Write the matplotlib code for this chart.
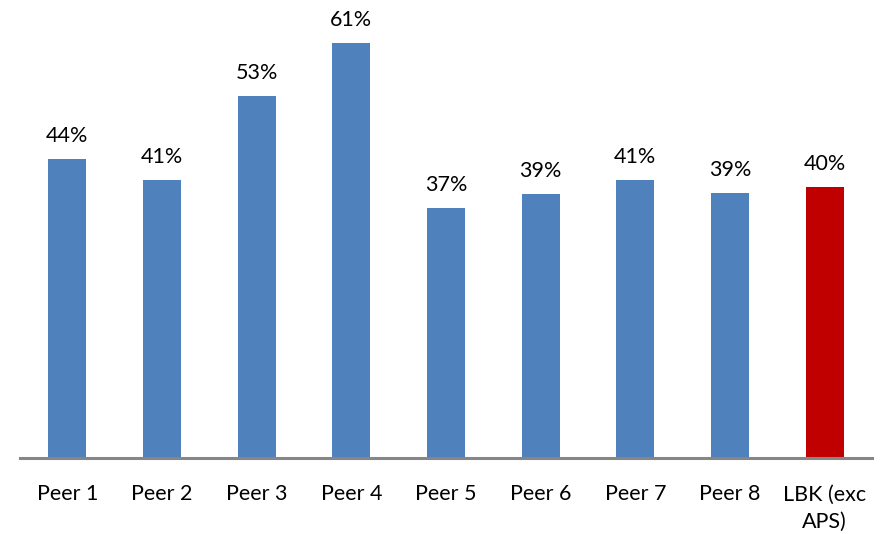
import matplotlib
matplotlib.use("Agg")
import matplotlib.pyplot as plt

categories = ["Peer 1", "Peer 2", "Peer 3", "Peer 4", "Peer 5", "Peer 6", "Peer 7", "Peer 8", "LBK (exc\nAPS)"]
values = [44.0, 40.8, 53.2, 61.0, 36.7, 38.8, 40.8, 38.9, 39.8]
labels = ["44%", "41%", "53%", "61%", "37%", "39%", "41%", "39%", "40%"]
colors = ["#4F81BD"] * 8 + ["#C00000"]

plt.rcParams['font.family'] = ['Lato', 'DejaVu Sans']

fig = plt.figure(figsize=(8.81, 5.34), dpi=100)
ax = fig.add_axes([20/881, (534-458)/534, (872-20)/881, 458/534])
x = list(range(len(categories)))
ax.bar(x, values, width=0.40, color=colors, zorder=2)
for xi, v, lab in zip(x, values, labels):
    ax.text(xi, v + 1.9, lab, ha="center", va="bottom", fontsize=15.5, color="#000000")
ax.set_xlim(-0.5, 8.5)
ax.set_ylim(0, 67.3)
ax.set_yticks([])
for s in ["top", "right", "left"]:
    ax.spines[s].set_visible(False)
ax.spines["bottom"].set_color("#868686")
ax.spines["bottom"].set_linewidth(2.2)
ax.spines["bottom"].set_zorder(3)
ax.set_xticks(x)
ax.set_xticklabels(categories, fontsize=15.5, linespacing=1.45, va="top")
ax.tick_params(axis="x", length=0, pad=19)
fig.savefig("out.png", dpi=100)
